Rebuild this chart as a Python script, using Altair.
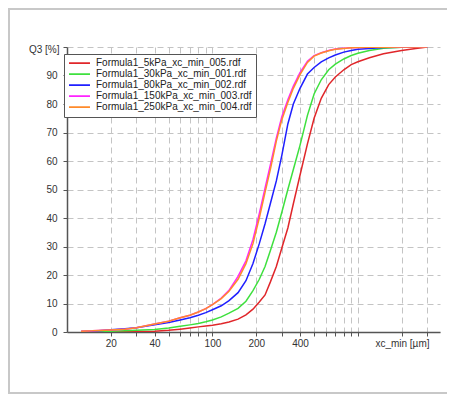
import altair as alt
import pandas as pd

# particle size grid (µm)
sizes = [12.5, 15, 20, 25, 30, 40, 50, 60, 70, 80, 90, 100, 115, 130, 150, 170, 190,
         210, 230, 250, 275, 300, 330, 360, 400, 450, 500, 560, 630, 700, 800, 900,
         1000, 1200, 1500, 2000, 2500, 3000]

series_names = [
    "Formula1_5kPa_xc_min_005.rdf",
    "Formula1_30kPa_xc_min_001.rdf",
    "Formula1_80kPa_xc_min_002.rdf",
    "Formula1_150kPa_xc_min_003.rdf",
    "Formula1_250kPa_xc_min_004.rdf",
]
series_colors = ["#e0262a", "#3ee03e", "#1f1fff", "#ff22ff", "#ff8a2a"]

q_5kpa = [0.0, 0.0, 0.05, 0.1, 0.15, 0.3, 0.6, 1.0, 1.4, 1.8, 2.1, 2.4, 2.9, 3.5, 4.5,
          6.0, 8.0, 10.5, 13.0, 17.5, 23.0, 29.5, 36.5, 45.0, 55.0, 66.0, 75.0, 82.0,
          86.8, 89.5, 92.0, 93.8, 94.8, 96.2, 97.6, 98.8, 99.5, 100.0]
q_30kpa = [0.1, 0.15, 0.3, 0.45, 0.6, 0.9, 1.4, 2.0, 2.5, 3.0, 3.6, 4.2, 5.3, 6.6, 8.3,
           10.8, 14.5, 18.5, 23.0, 28.5, 35.0, 42.0, 50.0, 57.0, 65.5, 76.0, 83.5, 88.5,
           92.0, 94.0, 95.8, 97.0, 97.8, 98.8, 99.6, 99.9, 100.0, 100.0]
q_80kpa = [0.2, 0.3, 0.8, 1.1, 1.5, 2.5, 3.3, 4.2, 5.0, 5.9, 6.8, 7.8, 9.2, 11.0, 13.8,
           18.0, 24.0, 31.0, 38.0, 45.0, 53.0, 62.0, 73.0, 80.0, 85.5, 90.5, 92.8, 94.8,
           96.2, 97.2, 98.2, 98.8, 99.2, 99.5, 99.8, 99.95, 100.0, 100.0]
q_150kpa = [0.3, 0.4, 0.7, 1.0, 1.5, 2.8, 3.8, 5.0, 5.9, 7.0, 8.2, 9.6, 11.9, 14.6, 19.5,
            25.0, 32.5, 41.5, 50.5, 58.5, 68.0, 75.5, 81.5, 86.3, 91.0, 95.0, 97.0, 98.0,
            98.8, 99.3, 99.6, 99.7, 99.8, 99.9, 99.95, 100.0, 100.0, 100.0]
q_250kpa = [0.3, 0.4, 0.7, 1.0, 1.5, 2.8, 3.8, 5.0, 5.9, 7.0, 8.2, 9.6, 11.7, 14.3, 18.5,
            24.0, 31.0, 40.0, 49.0, 57.0, 67.0, 74.5, 80.5, 85.5, 90.3, 94.6, 96.8, 97.9,
            98.7, 99.2, 99.5, 99.7, 99.8, 99.9, 99.95, 100.0, 100.0, 100.0]

x_grid = [20, 30, 40, 50, 60, 70, 80, 90, 100, 200, 300, 400, 500, 600, 700, 800, 900,
          1000, 2000, 3000]
x_labels = [20, 40, 100, 200, 400]
y_ticks = [0, 10, 20, 30, 40, 50, 60, 70, 80, 90, 100]

rows = []
for name, vals in zip(series_names, [q_5kpa, q_30kpa, q_80kpa, q_150kpa, q_250kpa]):
    for s, v in zip(sizes, vals):
        rows.append({"series": name, "size": s, "q3": v})
df = pd.DataFrame(rows)

FONT = "Liberation Sans"
label_test = " || ".join(f"datum.value == {v}" for v in x_labels)

lines = alt.Chart(df).mark_line(strokeWidth=1.5, clip=True).encode(
    x=alt.X(
        "size:Q",
        scale=alt.Scale(type="log", domain=[10, 3670], nice=False),
        axis=alt.Axis(
            values=x_grid,
            labelExpr=f"({label_test}) ? format(datum.value, 'd') : ''",
            labelOverlap=False,
            title="xc_min [µm]",
            titleX=362, titleY=6, titleAlign="right", titleBaseline="top",
            titleAnchor="start",
        ),
    ),
    y=alt.Y(
        "q3:Q",
        scale=alt.Scale(domain=[0, 100], nice=False),
        axis=alt.Axis(
            values=y_ticks,
            labelExpr="datum.value == 100 ? '' : format(datum.value, 'd')",
            title="Q3 [%]",
            titleAngle=0, titleX=-8, titleY=2, titleAlign="right",
            titleBaseline="middle", titleAnchor="start",
            labelPadding=6,
        ),
    ),
    color=alt.Color(
        "series:N",
        scale=alt.Scale(domain=series_names, range=series_colors),
        legend=alt.Legend(
            title=None, orient="none", legendX=-3, legendY=7,
            symbolType="stroke", symbolSize=440, symbolStrokeWidth=1.8,
            labelFont=FONT, labelFontSize=10, labelColor="#222", labelLimit=300,
            labelOffset=5, clipHeight=10.4, rowPadding=0,
            strokeColor="#555", fillColor="white", padding=4, cornerRadius=0,
        ),
    ),
)

frame = alt.Chart(alt.Data(values=[{}])).mark_rect(
    fillOpacity=0, stroke="#c8c8c8", strokeWidth=2
).encode(
    x=alt.value(-58), x2=alt.value(600), y=alt.value(-38), y2=alt.value(346)
)

chart = alt.layer(frame, lines).properties(
    width=373, height=285,
    padding={"left": 59, "top": 39, "right": 7, "bottom": 62},
    autosize=alt.AutoSizeParams(type="none"),
    background="white",
).configure_view(
    strokeWidth=0
).configure_axis(
    labelFont=FONT, labelFontSize=10, labelColor="#333",
    titleFont=FONT, titleFontSize=10, titleColor="#333", titleFontWeight="normal",
    domainColor="#555", domainWidth=1.5, tickColor="#555", tickSize=4,
    gridColor="#c4c4c4", gridDash=[6, 4], gridWidth=1,
    labelPadding=2,
)

chart.save("out.html", embed_options={"renderer": "svg", "actions": False})
